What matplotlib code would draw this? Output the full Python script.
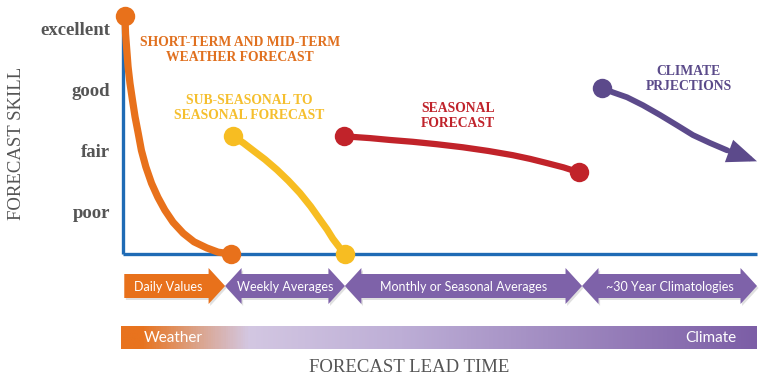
import matplotlib
matplotlib.use("Agg")
import matplotlib.pyplot as plt
import numpy as np
from matplotlib.patches import Polygon, FancyArrowPatch
from matplotlib.colors import LinearSegmentedColormap

# ---------------- data ----------------
skill_levels = ["poor", "fair", "good", "excellent"]
skill_values = [1, 2, 3, 4]

orange_lead = [0.3, 0.4, 0.6, 0.8, 1.1, 1.5, 1.9, 2.4, 2.9, 3.6, 4.5, 5.5,
               6.6, 7.9, 9.5, 11.2, 13.2, 15.0, 17.1]
orange_skill = [4.21, 3.91, 3.64, 3.37, 3.10, 2.82, 2.55, 2.28, 2.00, 1.73,
                1.46, 1.23, 1.02, 0.82, 0.64, 0.50, 0.40, 0.33, 0.30]
yellow_lead = [17.4, 19.0, 20.5, 22.4, 24.3, 26.1, 27.9, 29.6, 31.1, 32.2,
               33.1, 34.2, 35.0]
yellow_skill = [2.23, 2.12, 2.00, 1.85, 1.68, 1.50, 1.30, 1.08, 0.86, 0.70,
                0.55, 0.40, 0.30]
red_lead = [34.9, 39.0, 42.1, 45.7, 49.5, 53.6, 57.6, 61.5, 64.2, 66.9,
            69.5, 71.9]
red_skill = [2.23, 2.20, 2.17, 2.14, 2.10, 2.05, 1.99, 1.92, 1.86, 1.79,
             1.72, 1.64]
purple_lead = [75.6, 77.3, 79.5, 82.0, 84.7, 87.4, 89.9, 92.6, 95.3, 100.0]
purple_skill = [3.02, 2.95, 2.87, 2.74, 2.58, 2.41, 2.25, 2.12, 2.00, 1.82]

curve_labels = ["SHORT-TERM AND MID-TERM\nWEATHER FORECAST",
                "SUB-SEASONAL TO\nSEASONAL FORECAST",
                "SEASONAL\nFORECAST",
                "CLIMATE\nPRJECTIONS"]
label_lead = [18.5, 19.9, 52.8, 89.2]
label_skill = [3.64, 2.69, 2.56, 3.17]

period_bounds = [0.2, 16.1, 35.0, 72.4, 100.0]
period_labels = ["Daily Values", "Weekly Averages",
                 "Monthly or Seasonal Averages", "~30 Year Climatologies"]

# ---------------- style ----------------
C_OR = "#e8711b"
C_YE = "#f7bd22"
C_RE = "#c1232a"
C_PU = "#5c4a8b"
C_AX = "#1f6bb5"
C_ARW = "#7e62a9"
SERIF = "Liberation Serif"
SANS = "Lato"

W, H = 765, 382
fig = plt.figure(figsize=(W / 100, H / 100), dpi=100)
fig.patch.set_facecolor("white")

def fx(px):
    return px / W

def fy(py):
    return 1 - py / H

ax = fig.add_axes([fx(123), fy(254), fx(757) - fx(123), fy(18) - fy(254)])
ax.set_xlim(0, 100)
ax.set_ylim(0.30, 4.17)
for s in ["top", "right"]:
    ax.spines[s].set_visible(False)
for s in ["left", "bottom"]:
    ax.spines[s].set_color(C_AX)
    ax.spines[s].set_linewidth(2.4)
    ax.spines[s].set_capstyle("butt")
ax.set_xticks([])
ax.set_yticks(skill_values, skill_levels)
ax.tick_params(axis="y", length=0, pad=9)
for t in ax.get_yticklabels():
    t.set_fontfamily(SERIF)
    t.set_fontweight("bold")
    t.set_fontsize(13.5)
    t.set_color("#555555")

ms = 14
for lead, sk, col, lw in [(orange_lead, orange_skill, C_OR, 5.2),
                          (yellow_lead, yellow_skill, C_YE, 5.0),
                          (red_lead, red_skill, C_RE, 4.5)]:
    ax.plot(lead, sk, color=col, lw=lw, solid_capstyle="round",
            solid_joinstyle="round", zorder=3, clip_on=False)
    ax.plot([lead[0], lead[-1]], [sk[0], sk[-1]], "o", color=col, ms=ms,
            zorder=4, clip_on=False, markeredgewidth=0)

# purple with arrow
ax.plot(purple_lead[:-1], purple_skill[:-1], color=C_PU, lw=4.2,
        solid_capstyle="round", solid_joinstyle="round", zorder=3, clip_on=False)
ax.plot([purple_lead[0]], [purple_skill[0]], "o", color=C_PU, ms=ms,
        zorder=4, clip_on=False, markeredgewidth=0)
arr = FancyArrowPatch((purple_lead[-2], purple_skill[-2]),
                      (purple_lead[-1], purple_skill[-1]),
                      arrowstyle="-|>,head_length=0.75,head_width=0.3",
                      mutation_scale=20, color=C_PU, lw=3.5,
                      shrinkA=0, shrinkB=0, zorder=3, clip_on=False,
                      joinstyle="miter", capstyle="butt")
ax.add_patch(arr)

label_colors = ["#e0701f", "#f5bf2e", "#c0232b", "#5b4b8a"]
for txt, xl, yl, c in zip(curve_labels, label_lead, label_skill, label_colors):
    ax.text(xl, yl, txt, color=c, ha="center", va="center",
            fontfamily=SERIF, fontweight="bold", fontsize=9.8,
            linespacing=1.2, zorder=5)

# ---------------- bottom band ----------------
ax2 = fig.add_axes([fx(123), fy(362), fx(757) - fx(123), fy(262) - fy(362)])
ax2.set_xlim(0, 100)
ax2.set_ylim(362, 262)
ax2.axis("off")

hl = 2.6  # head length in lead units
body_t, body_b, head_t, head_b, mid = 274, 298, 268, 304, 286

def arrow_poly(x0, x1, left_head):
    pts = []
    if left_head:
        pts += [(x0, mid), (x0 + hl, head_t), (x0 + hl, body_t)]
    else:
        pts += [(x0, body_t)]
    pts += [(x1 - hl, body_t), (x1 - hl, head_t), (x1, mid),
            (x1 - hl, head_b), (x1 - hl, body_b)]
    if left_head:
        pts += [(x0 + hl, body_b), (x0 + hl, head_b)]
    else:
        pts += [(x0, body_b)]
    return pts

for i, lab in enumerate(period_labels):
    x0, x1 = period_bounds[i], period_bounds[i + 1]
    pts = arrow_poly(x0, x1, i > 0)
    shadow = [(px + 0.25, py + 2.0) for px, py in pts]
    ax2.add_patch(Polygon(shadow, closed=True, facecolor="#000000",
                          alpha=0.12, edgecolor="none", clip_on=False))
    col = C_OR if i == 0 else C_ARW
    ax2.add_patch(Polygon(pts, closed=True, facecolor=col, edgecolor="none",
                          clip_on=False))
    cx = (x0 + x1) / 2
    if i == 0:
        cx = (x0 + x1 - hl) / 2 + 0.3
    ax2.text(cx, mid + 0.5, lab, color="white", ha="center", va="center",
             fontfamily=SANS, fontsize=9)

# gradient bar
cmap = LinearSegmentedColormap.from_list(
    "wc", [(0.0, "#e8731e"), (0.03, "#e8731e"), (0.12, "#dba48c"),
           (0.20, "#d3c7e2"), (0.44, "#bdaed6"), (1.0, "#7c5ea6")])
grad = np.linspace(0, 1, 600).reshape(1, -1)
ax2.imshow(grad, cmap=cmap, aspect="auto", extent=(-0.3, 100, 349, 326),
           zorder=1, clip_on=False)
ax2.text(3.2, 338, "Weather", color="white", ha="left", va="center",
         fontfamily=SANS, fontsize=11, zorder=2)
ax2.text(96.8, 338, "Climate", color="white", ha="right", va="center",
         fontfamily=SANS, fontsize=11, zorder=2)
ax2.set_xlim(0, 100)
ax2.set_ylim(362, 262)

fig.text(fx(409), fy(368), "FORECAST LEAD TIME", ha="center", va="center",
         fontfamily=SERIF, fontsize=13.5, color="#555555")
fig.text(fx(17), fy(143), "FORECAST SKILL", ha="center", va="center",
         rotation=90, fontfamily=SERIF, fontsize=13.5, color="#555555")

fig.savefig("out.png", dpi=100, facecolor="white")
